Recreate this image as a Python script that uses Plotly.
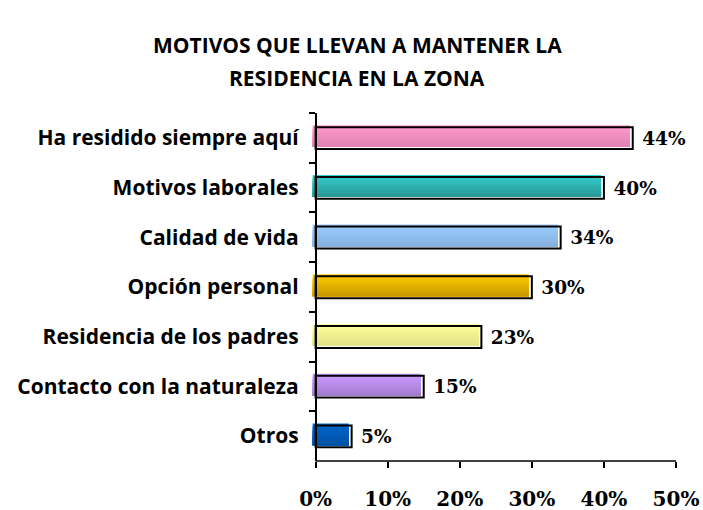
import plotly.graph_objects as go

# ---- data ----
categories = [
    "Ha residido siempre aquí",
    "Motivos laborales",
    "Calidad de vida",
    "Opción personal",
    "Residencia de los padres",
    "Contacto con la naturaleza",
    "Otros",
]
values = [44, 40, 34, 30, 23, 15, 5]
tick_values = [0, 10, 20, 30, 40, 50]
tick_labels = ["0%", "10%", "20%", "30%", "40%", "50%"]

# ---- style ----
top_colors = ["#FF9ACC", "#33CCCC", "#99CCFF", "#FFCC00", "#FFFF99", "#CC99FF", "#0066CC"]
bottom_colors = ["#E182B2", "#2A9999", "#86B2E0", "#C99A00", "#E2E288", "#A47DD2", "#0052A6"]

def hex2rgb(h):
    h = h.lstrip("#")
    return tuple(int(h[i:i + 2], 16) for i in (0, 2, 4))

def mix(c1, c2, t):
    a, b = hex2rgb(c1), hex2rgb(c2)
    return "rgb(%d,%d,%d)" % tuple(round(a[k] + (b[k] - a[k]) * t) for k in range(3))

bar_w = 0.44
shift = 0.035
n_strips = 12
fill_base = -0.4
x_range = [-0.5, 50]
L, R, T, B = 312, 27, 113, 49
W, H = 703, 510

fig = go.Figure()

for i in range(n_strips):
    t = i / (n_strips - 1)
    fig.add_trace(go.Bar(
        orientation="h",
        y=categories,
        x=values,
        base=fill_base,
        width=bar_w - i * bar_w / n_strips,
        offset=-bar_w / 2 - shift + i * bar_w / n_strips,
        marker=dict(color=[mix(tc, bc, t) for tc, bc in zip(top_colors, bottom_colors)],
                    line=dict(width=0)),
        hoverinfo="skip",
        showlegend=False,
    ))

fig.add_trace(go.Bar(
    orientation="h",
    y=categories,
    x=values,
    base=0,
    width=bar_w,
    offset=-bar_w / 2 + 0.005,
    marker=dict(color="rgba(0,0,0,0)", line=dict(color="black", width=2)),
    text=[f"\u00a0{v}%" for v in values],
    textposition="outside",
    cliponaxis=False,
    textfont=dict(family="DejaVu Serif", size=22, color="black", weight="bold"),
    showlegend=False,
))

fig.add_shape(type="line", xref="x", yref="paper", x0=0, x1=50, y0=0, y1=0,
              line=dict(color="black", width=1.5))

title_x = (357 - L) / (W - L - R)
fig.add_annotation(text="<b>MOTIVOS QUE LLEVAN A MANTENER LA</b>", xref="paper", yref="paper",
                   x=title_x, y=1, showarrow=False, xanchor="center", yanchor="middle",
                   font=dict(family="Open Sans", size=21, color="black"),
                   yshift=68)
fig.add_annotation(text="<b>RESIDENCIA EN LA ZONA</b>", xref="paper", yref="paper",
                   x=title_x, y=1, showarrow=False, xanchor="center", yanchor="middle",
                   font=dict(family="Open Sans", size=21, color="black"),
                   yshift=35)

pos = (0 - x_range[0]) / (x_range[1] - x_range[0])

fig.update_layout(
    width=W, height=H,
    margin=dict(l=L, r=R, t=T, b=B, autoexpand=False),
    paper_bgcolor="white", plot_bgcolor="white",
    barmode="overlay",
    xaxis=dict(range=x_range, tickvals=tick_values, ticktext=tick_labels, automargin=False,
               showgrid=False, zeroline=False, showline=False,
               ticks="outside", ticklen=6, tickwidth=1.5, tickcolor="black",
               ticklabelstandoff=14,
               tickfont=dict(family="DejaVu Serif", size=20, color="black", weight="bold")),
    yaxis=dict(type="category", categoryorder="array", categoryarray=categories,
               autorange="reversed", anchor="free", position=pos, automargin=False,
               showgrid=False, zeroline=False, showline=True, linecolor="black", linewidth=1.5,
               ticks="outside", tickson="boundaries", ticklen=6, tickwidth=1.5, tickcolor="black",
               ticklabelstandoff=12,
               tickfont=dict(family="Open Sans", size=21, color="black", weight="bold")),
)

fig.write_html("out.html", config={"displayModeBar": False},
               post_script="document.body.style.margin='0';")
